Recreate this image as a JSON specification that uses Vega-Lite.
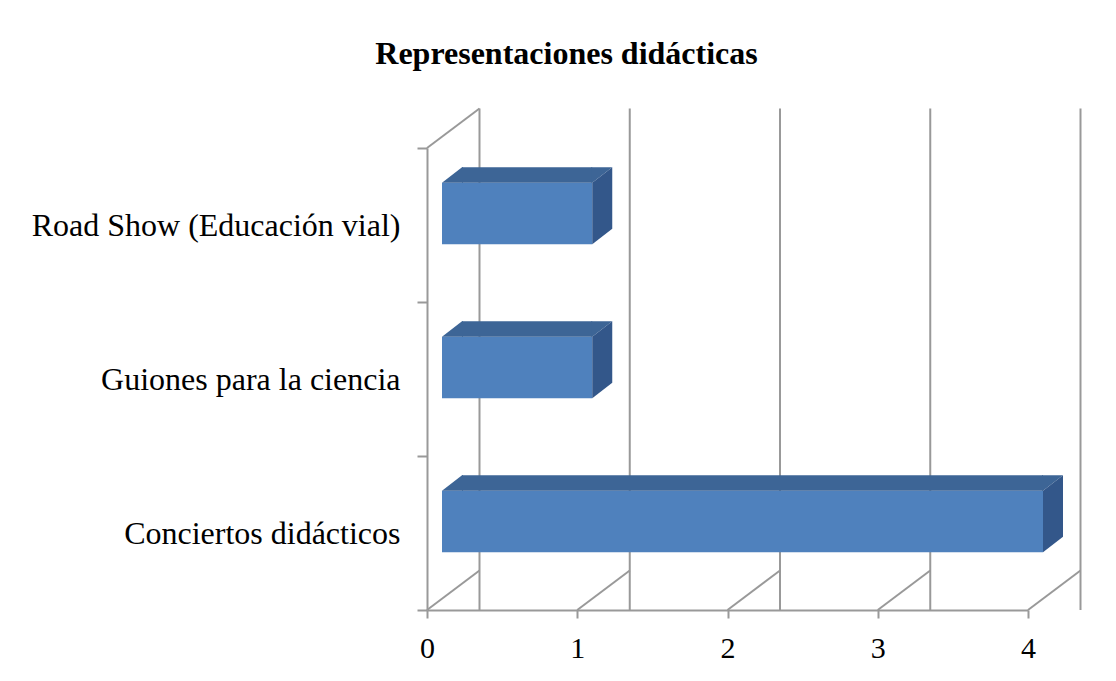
{
  "$schema": "https://vega.github.io/schema/vega-lite/v6.json",
  "width": 601,
  "height": 462,
  "autosize": {"type": "none"},
  "padding": {"left": 427, "top": 148, "right": 88, "bottom": 71},
  "background": "white",
  "title": {
    "text": "Representaciones didácticas",
    "font": "Liberation Serif",
    "fontSize": 32,
    "fontWeight": "bold",
    "color": "black",
    "anchor": "middle",
    "frame": "group",
    "dx": -161,
    "offset": 37
  },
  "config": {"view": {"stroke": null}, "font": "Liberation Serif"},
  "datasets": {
    "bars": [
      {"categoria": "Road Show (Educación vial)", "valor": 1},
      {"categoria": "Guiones para la ciencia", "valor": 1},
      {"categoria": "Conciertos didácticos", "valor": 4}
    ],
    "ticks": [{"t": 0}, {"t": 1}, {"t": 2}, {"t": 3}, {"t": 4}]
  },
  "layer": [
    {
      "data": {"name": "ticks"},
      "mark": {"type": "rule", "color": "#999999", "strokeWidth": 2, "xOffset": 52.5, "yOffset": -39.5, "y2Offset": -39.5},
      "encoding": {
        "x": {"field": "t", "type": "quantitative", "scale": {"domain": [0, 4], "nice": false, "zero": true}}
      }
    },
    {
      "data": {"name": "ticks"},
      "mark": {"type": "rule", "color": "#999999", "strokeWidth": 2, "x2Offset": 52.5, "y2Offset": -39.5},
      "encoding": {
        "x": {"field": "t", "type": "quantitative"},
        "x2": {"field": "t"},
        "y": {"value": "height"},
        "y2": {"value": "height"}
      }
    },
    {
      "data": {"name": "ticks"},
      "transform": [{"filter": "datum.t == 0"}],
      "mark": {"type": "rule", "color": "#999999", "strokeWidth": 2, "x2Offset": 52.5, "y2Offset": -39.5},
      "encoding": {
        "x": {"field": "t", "type": "quantitative"},
        "x2": {"field": "t"},
        "y": {"value": 0},
        "y2": {"value": 0}
      }
    },
    {
      "data": {"name": "bars"},
      "mark": {"type": "bar", "height": 61.5, "yOffset": -11.5, "xOffset": 15, "x2Offset": 15, "color": "#4F81BD"},
      "encoding": {
        "x": {
          "field": "valor",
          "type": "quantitative",
          "axis": {
            "title": null,
            "values": [0, 1, 2, 3, 4],
            "format": "d",
            "grid": false,
            "domainColor": "#999999",
            "domainWidth": 2,
            "tickColor": "#999999",
            "tickWidth": 2,
            "tickSize": 8,
            "labelFont": "Liberation Serif",
            "labelFontSize": 30,
            "labelColor": "black",
            "labelPadding": 15,
            "labelFlush": false
          }
        },
        "x2": {"datum": 0},
        "y": {
          "field": "categoria",
          "type": "nominal",
          "sort": ["Road Show (Educación vial)", "Guiones para la ciencia", "Conciertos didácticos"],
          "scale": {"paddingInner": 0, "paddingOuter": 0},
          "axis": {
            "title": null,
            "grid": false,
            "domainColor": "#999999",
            "domainWidth": 2,
            "tickColor": "#999999",
            "tickWidth": 2,
            "tickSize": 10,
            "tickBand": "extent",
            "labelFont": "Liberation Serif",
            "labelFontSize": 32,
            "labelColor": "black",
            "labelPadding": 17,
            "labelLimit": 600
          }
        }
      }
    },
    {
      "data": {"name": "bars"},
      "mark": {"type": "bar", "height": 15.5, "yOffset": -50, "xOffset": 15, "x2Offset": 35, "color": "#3D6596"},
      "encoding": {
        "x": {"field": "valor", "type": "quantitative"},
        "x2": {"datum": 0},
        "y": {"field": "categoria", "type": "nominal", "sort": ["Road Show (Educación vial)", "Guiones para la ciencia", "Conciertos didácticos"]}
      }
    },
    {
      "data": {"name": "bars"},
      "mark": {"type": "point", "shape": "M0,-1.05625L0.525,-1.05625L0.525,-1.44375L0.5,-1.44375Z", "size": 6400, "filled": true, "opacity": 1, "strokeWidth": 0, "xOffset": 15, "color": "#3D6596"},
      "encoding": {
        "x": {"datum": 0, "type": "quantitative"},
        "y": {"field": "categoria", "type": "nominal", "sort": ["Road Show (Educación vial)", "Guiones para la ciencia", "Conciertos didácticos"]}
      }
    },
    {
      "data": {"name": "bars"},
      "mark": {"type": "point", "shape": "M-0.025,-1.05625L-0.025,-1.44375L0.5,-1.44375L0,-1.05625Z", "size": 6400, "filled": true, "opacity": 1, "strokeWidth": 0, "xOffset": 15, "color": "#3D6596"},
      "encoding": {
        "x": {"field": "valor", "type": "quantitative"},
        "y": {"field": "categoria", "type": "nominal", "sort": ["Road Show (Educación vial)", "Guiones para la ciencia", "Conciertos didácticos"]}
      }
    },
    {
      "data": {"name": "bars"},
      "mark": {"type": "point", "shape": "M0,-1.05625L0.5,-1.44375L0.5,0.09375L0,0.48125Z", "size": 6400, "filled": true, "opacity": 1, "strokeWidth": 0, "xOffset": 15, "color": "#33578A"},
      "encoding": {
        "x": {"field": "valor", "type": "quantitative"},
        "y": {"field": "categoria", "type": "nominal", "sort": ["Road Show (Educación vial)", "Guiones para la ciencia", "Conciertos didácticos"]}
      }
    }
  ]
}
